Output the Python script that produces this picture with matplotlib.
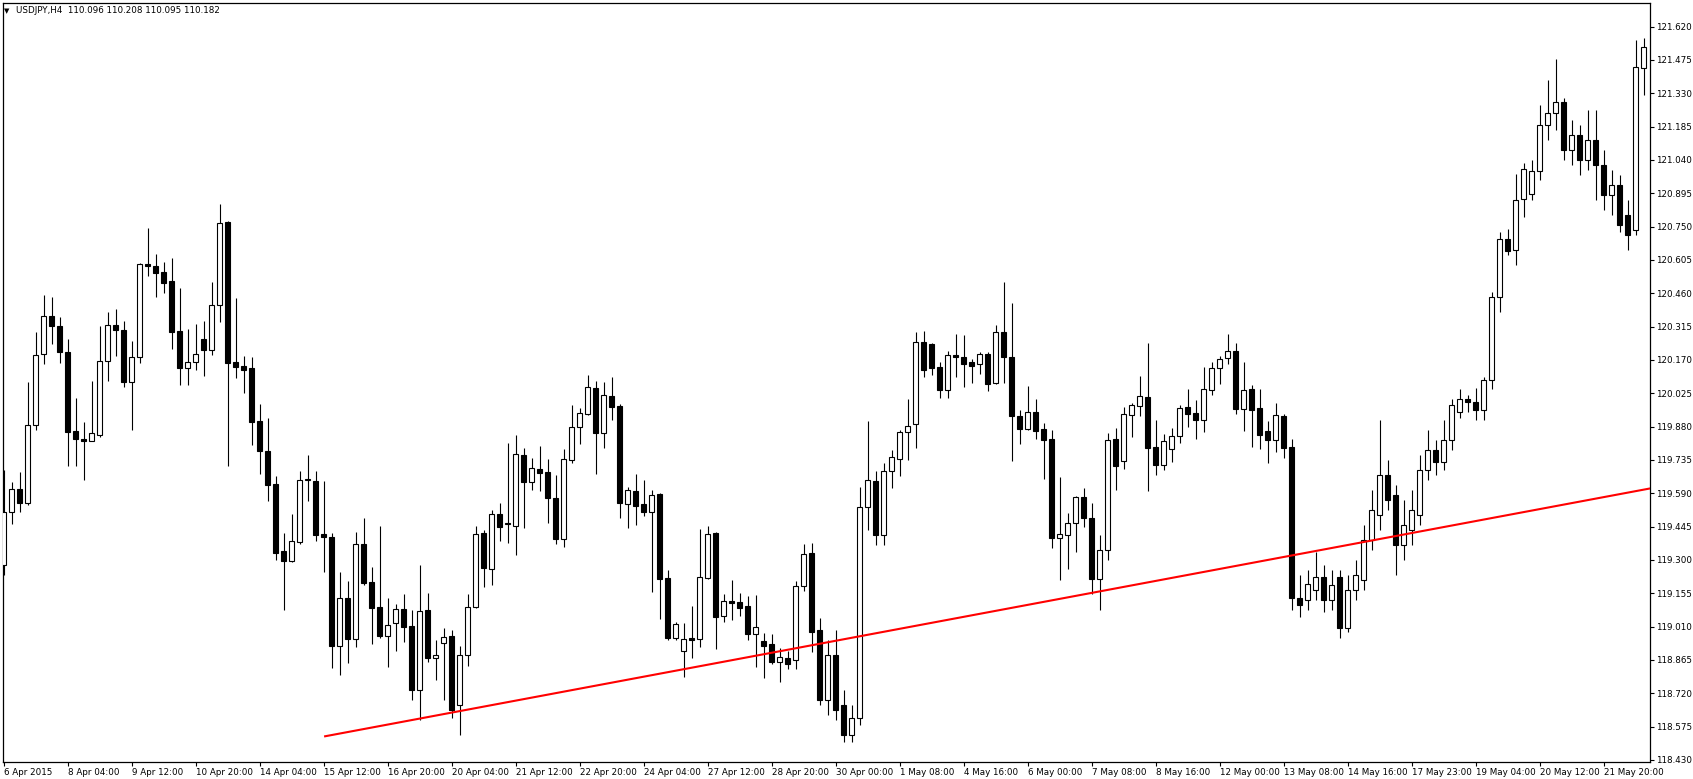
import numpy as np
import matplotlib.pyplot as plt

# USDJPY H4 candles (oldest first)
opens = [
    119.278, 119.509, 119.609, 119.548, 119.887, 120.196, 120.361, 120.318, 120.205, 119.861,
    119.826, 119.818, 119.844, 120.166, 120.322, 120.301, 120.074, 120.183, 120.588, 120.579,
    120.553, 120.514, 120.296, 120.135, 120.161, 120.261, 120.214, 120.409, 120.770, 120.161,
    120.144, 120.135, 119.905, 119.774, 119.631, 119.339, 119.296, 119.378, 119.648, 119.644,
    119.413, 119.400, 118.926, 119.135, 118.956, 119.370, 119.204, 119.096, 118.969, 119.026,
    119.087, 119.013, 118.735, 119.083, 118.874, 118.939, 118.969, 118.669, 118.887, 119.096,
    119.418, 119.261, 119.500, 119.457, 119.448, 119.757, 119.639, 119.696, 119.683, 119.570,
    119.391, 119.735, 119.879, 119.935, 120.048, 119.853, 120.013, 119.970, 119.544, 119.600,
    119.544, 119.509, 119.587, 119.222, 118.961, 118.904, 118.961, 118.956, 119.222, 119.418,
    119.056, 119.122, 119.117, 119.100, 118.978, 118.948, 118.935, 118.856, 118.874, 118.865,
    119.187, 119.331, 118.996, 118.691, 118.887, 118.669, 118.539, 118.613, 119.531, 119.644,
    119.409, 119.687, 119.739, 119.857, 119.892, 120.248, 120.240, 120.140, 120.040, 120.192,
    120.183, 120.161, 120.153, 120.196, 120.070, 120.292, 120.183, 119.926, 119.870, 119.944,
    119.870, 119.826, 119.396, 119.409, 119.461, 119.574, 119.483, 119.217, 119.344, 119.826,
    119.731, 119.931, 119.970, 120.009, 119.792, 119.713, 119.783, 119.839, 119.965, 119.940,
    119.909, 120.040, 120.135, 120.179, 120.209, 119.957, 120.044, 119.961, 119.861, 119.822,
    119.926, 119.792, 119.135, 119.126, 119.170, 119.226, 119.126, 119.226, 119.004, 119.170,
    119.213, 119.387, 119.496, 119.670, 119.583, 119.365, 119.431, 119.496, 119.692, 119.779,
    119.726, 119.822, 119.944, 120.000, 119.987, 119.953, 120.083, 120.444, 120.696, 120.649,
    120.870, 120.892, 120.992, 121.192, 121.244, 121.292, 121.084, 121.149, 121.040, 121.127,
    121.018, 120.888, 120.931, 120.801, 120.736, 121.440,
]
highs = [
    119.692, 119.639, 119.683, 120.074, 120.292, 120.453, 120.444, 120.357, 120.261, 120.005,
    119.900, 120.079, 120.318, 120.379, 120.392, 120.340, 120.253, 120.592, 120.744, 120.631,
    120.596, 120.614, 120.483, 120.305, 120.327, 120.340, 120.509, 120.849, 120.775, 120.440,
    120.187, 120.183, 119.979, 119.918, 119.665, 119.418, 119.500, 119.687, 119.757, 119.687,
    119.644, 119.418, 119.248, 119.209, 119.422, 119.483, 119.270, 119.448, 119.135, 119.109,
    119.152, 119.083, 119.278, 119.157, 118.952, 119.004, 118.996, 118.926, 119.152, 119.448,
    119.431, 119.518, 119.548, 119.809, 119.844, 119.787, 119.744, 119.796, 119.739, 119.670,
    119.783, 119.974, 119.961, 120.105, 120.079, 120.074, 120.096, 119.979, 119.617, 119.674,
    119.648, 119.604, 119.591, 119.257, 119.030, 119.026, 119.100, 119.435, 119.448, 119.422,
    119.152, 119.213, 119.157, 119.143, 119.148, 118.983, 118.978, 118.917, 118.904, 119.209,
    119.370, 119.374, 119.048, 118.952, 118.996, 118.735, 118.669, 119.617, 119.905, 119.687,
    119.722, 119.779, 119.866, 120.000, 120.292, 120.296, 120.244, 120.161, 120.209, 120.283,
    120.279, 120.174, 120.205, 120.205, 120.322, 120.509, 120.418, 119.953, 120.057, 120.000,
    119.896, 119.866, 119.661, 119.504, 119.578, 119.613, 119.548, 119.409, 119.853, 119.874,
    119.965, 119.983, 120.100, 120.244, 119.909, 119.848, 119.874, 119.974, 120.044, 119.996,
    120.140, 120.161, 120.187, 120.283, 120.244, 120.161, 120.061, 120.044, 119.905, 119.983,
    119.935, 119.826, 119.235, 119.257, 119.335, 119.278, 119.257, 119.257, 119.235, 119.300,
    119.452, 119.604, 119.909, 119.735, 119.626, 119.561, 119.604, 119.757, 119.866, 119.822,
    119.909, 120.000, 120.044, 120.018, 120.048, 120.096, 120.466, 120.727, 120.740, 120.979,
    121.027, 121.040, 121.279, 121.388, 121.479, 121.310, 121.214, 121.192, 121.257, 121.257,
    121.084, 120.997, 120.975, 120.866, 121.562, 121.571,
]
lows = [
    119.235, 119.457, 119.509, 119.539, 119.866, 120.153, 120.240, 120.157, 119.709, 119.709,
    119.648, 119.816, 119.835, 120.079, 120.188, 120.053, 119.866, 120.157, 120.535, 120.444,
    120.461, 120.218, 120.061, 120.061, 120.127, 120.100, 120.192, 120.335, 119.709, 120.092,
    120.027, 119.800, 119.674, 119.557, 119.300, 119.083, 119.291, 119.370, 119.557, 119.383,
    119.248, 118.830, 118.800, 118.852, 118.922, 119.191, 118.935, 118.961, 118.835, 118.904,
    118.943, 118.691, 118.604, 118.856, 118.778, 118.691, 118.613, 118.539, 118.839, 119.091,
    119.183, 119.191, 119.383, 119.374, 119.322, 119.439, 119.604, 119.600, 119.461, 119.370,
    119.357, 119.722, 119.805, 119.931, 119.674, 119.787, 119.909, 119.483, 119.439, 119.452,
    119.491, 119.161, 119.043, 118.952, 118.952, 118.791, 118.874, 118.922, 119.217, 118.913,
    119.030, 119.039, 119.056, 118.952, 118.835, 118.787, 118.848, 118.769, 118.826, 118.826,
    119.165, 118.900, 118.669, 118.626, 118.604, 118.508, 118.508, 118.582, 119.431, 119.365,
    119.365, 119.613, 119.665, 119.735, 119.787, 120.096, 120.105, 120.005, 120.005, 120.096,
    120.053, 120.070, 120.109, 120.035, 120.066, 120.070, 119.731, 119.805, 119.866, 119.826,
    119.652, 119.352, 119.213, 119.261, 119.335, 119.444, 119.152, 119.083, 119.300, 119.604,
    119.696, 119.835, 119.926, 119.600, 119.670, 119.692, 119.726, 119.809, 119.879, 119.826,
    119.857, 120.018, 120.066, 120.153, 119.935, 119.861, 119.792, 119.783, 119.722, 119.770,
    119.744, 119.083, 119.052, 119.083, 119.126, 119.074, 119.083, 118.961, 118.987, 119.126,
    119.170, 119.344, 119.431, 119.518, 119.235, 119.300, 119.365, 119.452, 119.648, 119.670,
    119.692, 119.779, 119.918, 119.944, 119.909, 119.909, 120.044, 120.379, 120.627, 120.583,
    120.792, 120.866, 120.953, 121.127, 121.171, 121.040, 121.018, 120.975, 120.997, 120.866,
    120.823, 120.801, 120.727, 120.649, 120.714, 121.323,
]
closes = [
    119.509, 119.609, 119.548, 119.887, 120.192, 120.361, 120.318, 120.205, 119.857, 119.826,
    119.818, 119.853, 120.166, 120.322, 120.301, 120.074, 120.183, 120.588, 120.579, 120.549,
    120.505, 120.292, 120.135, 120.161, 120.196, 120.214, 120.409, 120.766, 120.157, 120.140,
    120.127, 119.900, 119.774, 119.626, 119.331, 119.296, 119.383, 119.648, 119.650, 119.409,
    119.400, 118.926, 119.135, 118.956, 119.370, 119.200, 119.091, 118.969, 119.017, 119.087,
    119.009, 118.735, 119.078, 118.874, 118.887, 118.965, 118.648, 118.887, 119.096, 119.413,
    119.265, 119.500, 119.444, 119.459, 119.761, 119.639, 119.700, 119.678, 119.570, 119.391,
    119.739, 119.879, 119.940, 120.053, 119.853, 120.018, 119.965, 119.548, 119.604, 119.535,
    119.509, 119.583, 119.217, 118.961, 119.022, 118.956, 118.952, 119.226, 119.413, 119.052,
    119.122, 119.113, 119.091, 118.978, 119.009, 118.926, 118.856, 118.878, 118.848, 119.187,
    119.326, 118.987, 118.691, 118.887, 118.648, 118.539, 118.613, 119.531, 119.648, 119.409,
    119.687, 119.748, 119.857, 119.883, 120.248, 120.127, 120.135, 120.040, 120.192, 120.183,
    120.153, 120.144, 120.196, 120.066, 120.292, 120.183, 119.926, 119.870, 119.944, 119.861,
    119.822, 119.396, 119.413, 119.461, 119.574, 119.483, 119.217, 119.344, 119.822, 119.709,
    119.935, 119.974, 120.013, 119.787, 119.713, 119.818, 119.839, 119.961, 119.935, 119.909,
    120.044, 120.135, 120.174, 120.209, 119.957, 120.040, 119.953, 119.844, 119.822, 119.931,
    119.787, 119.135, 119.104, 119.196, 119.226, 119.126, 119.191, 119.004, 119.170, 119.235,
    119.387, 119.518, 119.670, 119.561, 119.365, 119.452, 119.518, 119.692, 119.779, 119.726,
    119.822, 119.974, 120.000, 119.987, 119.953, 120.083, 120.444, 120.696, 120.644, 120.866,
    121.001, 120.992, 121.192, 121.244, 121.292, 121.084, 121.149, 121.040, 121.127, 121.018,
    120.888, 120.931, 120.757, 120.714, 121.445, 121.532,
]

price_labels = ['121.620', '121.475', '121.330', '121.185', '121.040', '120.895', '120.750',
                '120.605', '120.460', '120.315', '120.170', '120.025', '119.880', '119.735',
                '119.590', '119.445', '119.300', '119.155', '119.010', '118.865', '118.720',
                '118.575', '118.430']
time_labels = ['6 Apr 2015', '8 Apr 04:00', '9 Apr 12:00', '10 Apr 20:00', '14 Apr 04:00',
               '15 Apr 12:00', '16 Apr 20:00', '20 Apr 04:00', '21 Apr 12:00', '22 Apr 20:00',
               '24 Apr 04:00', '27 Apr 12:00', '28 Apr 20:00', '30 Apr 00:00', '1 May 08:00',
               '4 May 16:00', '6 May 00:00', '7 May 08:00', '8 May 16:00', '12 May 00:00',
               '13 May 08:00', '14 May 16:00', '17 May 23:00', '19 May 04:00', '20 May 12:00',
               '21 May 20:00']
header = 'USDJPY,H4  110.096 110.208 110.095 110.182'

# trend line (bar index, price)
trend_bars = [40.2, 205.8]
trend_prices = [118.533, 119.611]

o = np.array(opens)
h = np.array(highs)
l = np.array(lows)
c = np.array(closes)
x = np.arange(len(o))

fig = plt.figure(figsize=(16.93, 7.79), dpi=100)
ax = fig.add_axes([0.0016, 0.0218, 0.9730, 0.9747])

# wicks first, bodies on top
ax.vlines(x, l, h, color='black', linewidth=0.8, zorder=2)
up = c >= o
bottom = np.minimum(o, c)
height = np.maximum(np.abs(c - o), 0.002)
ax.bar(x[up], height[up], bottom=bottom[up], width=0.62, color='white',
       edgecolor='black', linewidth=0.8, zorder=3)
ax.bar(x[~up], height[~up], bottom=bottom[~up], width=0.62, color='black',
       edgecolor='black', linewidth=0.8, zorder=3)

ax.plot(trend_bars, trend_prices, color='#ff0000', linewidth=1.5, zorder=4)

ax.set_xlim(-0.1, 205.8)
ax.set_ylim(118.421, 121.724)

ax.yaxis.tick_right()
ax.set_yticks([float(v) for v in price_labels])
ax.set_yticklabels(price_labels)
ax.tick_params(axis='y', length=3, width=0.8, pad=1.5, labelsize=6.3)

ax.set_xticks(np.arange(0, 201, 8))
ax.set_xticklabels(time_labels)
ax.tick_params(axis='x', length=3, width=0.8, pad=1, labelsize=6.3)
for lab in ax.get_xticklabels():
    lab.set_ha('left')

for sp in ax.spines.values():
    sp.set_linewidth(0.9)

fig.text(0.0024, 0.986, '\u25bc', fontsize=5, va='center', ha='left')
fig.text(0.0095, 0.986, header, fontsize=6.3, va='center', ha='left')

fig.savefig('out.png', dpi=100)
